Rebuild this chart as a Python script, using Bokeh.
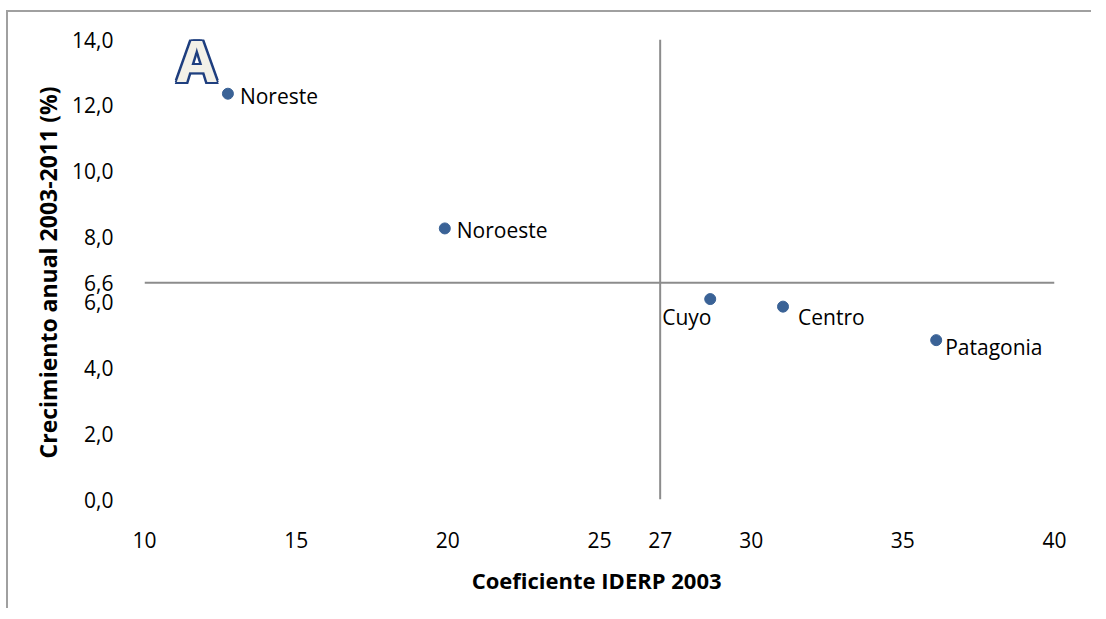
from bokeh.plotting import figure
from bokeh.models import ColumnDataSource, Span, FixedTicker
from bokeh.core.properties import value
from bokeh.embed import file_html
from bokeh.resources import INLINE

# ---- data ----
regions = ["Noreste", "Noroeste", "Cuyo", "Centro", "Patagonia"]
iderp_2003 = [12.75, 19.9, 28.65, 31.05, 36.1]
growth_2003_2011 = [12.35, 8.25, 6.1, 5.87, 4.85]
x_ticks = [10, 15, 20, 25, 27, 30, 35, 40]
y_ticks = [0, 2, 4, 6, 6.6, 8, 10, 12, 14]
x_ref = 27
y_ref = 6.6
panel_letter = "A"

# label placement (styles)
label_offsets = {
    "Noreste": (12, 2),
    "Noroeste": (12, 2),
    "Cuyo": (-48, 18),
    "Centro": (15, 10),
    "Patagonia": (9, 7),
}

FONT = "Open Sans"

src = ColumnDataSource(dict(
    x=iderp_2003, y=growth_2003_2011, name=regions,
    xo=[label_offsets[r][0] for r in regions],
    yo=[label_offsets[r][1] for r in regions],
))

p = figure(width=1085, height=598, x_range=(10, 40), y_range=(0, 14),
           output_backend="svg", toolbar_location=None,
           min_border_left=136, min_border_right=39,
           min_border_top=27, min_border_bottom=111)
p.styles = {"border-top": "2px solid #a0a0a0", "border-left": "2px solid #a0a0a0",
            "margin-top": "10px", "margin-left": "6px"}
p.outline_line_color = None
p.grid.visible = False

# axes
p.xaxis.ticker = FixedTicker(ticks=x_ticks)
p.yaxis.ticker = FixedTicker(ticks=y_ticks)
p.xaxis.major_label_overrides = {t: str(t) for t in x_ticks}
p.yaxis.major_label_overrides = {t: f"{t:.1f}".replace(".", ",") for t in y_ticks}
for ax in (p.xaxis, p.yaxis):
    ax.axis_line_color = None
    ax.major_tick_line_color = None
    ax.minor_tick_line_color = None
    ax.major_label_text_font = FONT
    ax.major_label_text_font_size = "21px"
    ax.major_label_text_color = "#000000"
    ax.axis_label_text_font = FONT
    ax.axis_label_text_font_style = "bold"
    ax.axis_label_text_color = "#000000"
p.xaxis.axis_label_text_font_size = "22px"
p.yaxis.axis_label_text_font_size = "23px"
p.xaxis.major_label_standoff = 26
p.yaxis.major_label_standoff = 25
p.xaxis.axis_label = "Coeficiente IDERP  2003"
p.yaxis.axis_label = "Crecimiento anual  2003-2011 (%)"
p.xaxis.axis_label_standoff = 14
p.yaxis.axis_label_standoff = 5

# reference lines
p.add_layout(Span(location=x_ref, dimension="height", line_color="#8c8c8c", line_width=2))
p.add_layout(Span(location=y_ref, dimension="width", line_color="#8c8c8c", line_width=2))

# points
p.scatter("x", "y", source=src, size=11, fill_color="#3A6296", line_color="#3A6296")
p.text("x", "y", text="name", source=src, x_offset="xo", y_offset="yo",
       text_font=value(FONT), text_font_size="21px", text_baseline="middle",
       text_align="left", text_color="#000000")

# panel letter: dark outline built from offset copies, light fill on top
letter_x, letter_y = 11.72, 13.4
for dx in (-2, 0, 2):
    for dy in (-2, 0, 2):
        if dx == 0 and dy == 0:
            continue
        p.text(x=[letter_x], y=[letter_y], text=[panel_letter], x_offset=dx, y_offset=dy,
               text_font=value(FONT), text_font_size="58px", text_font_style="bold",
               text_align="center", text_baseline="middle", text_color="#1F3F7F")
p.text(x=[letter_x], y=[letter_y], text=[panel_letter], text_font=value(FONT),
       text_font_size="58px", text_font_style="bold", text_align="center",
       text_baseline="middle", text_color="#F3F1E8")

open("out.html", "w").write(file_html(p, INLINE))
